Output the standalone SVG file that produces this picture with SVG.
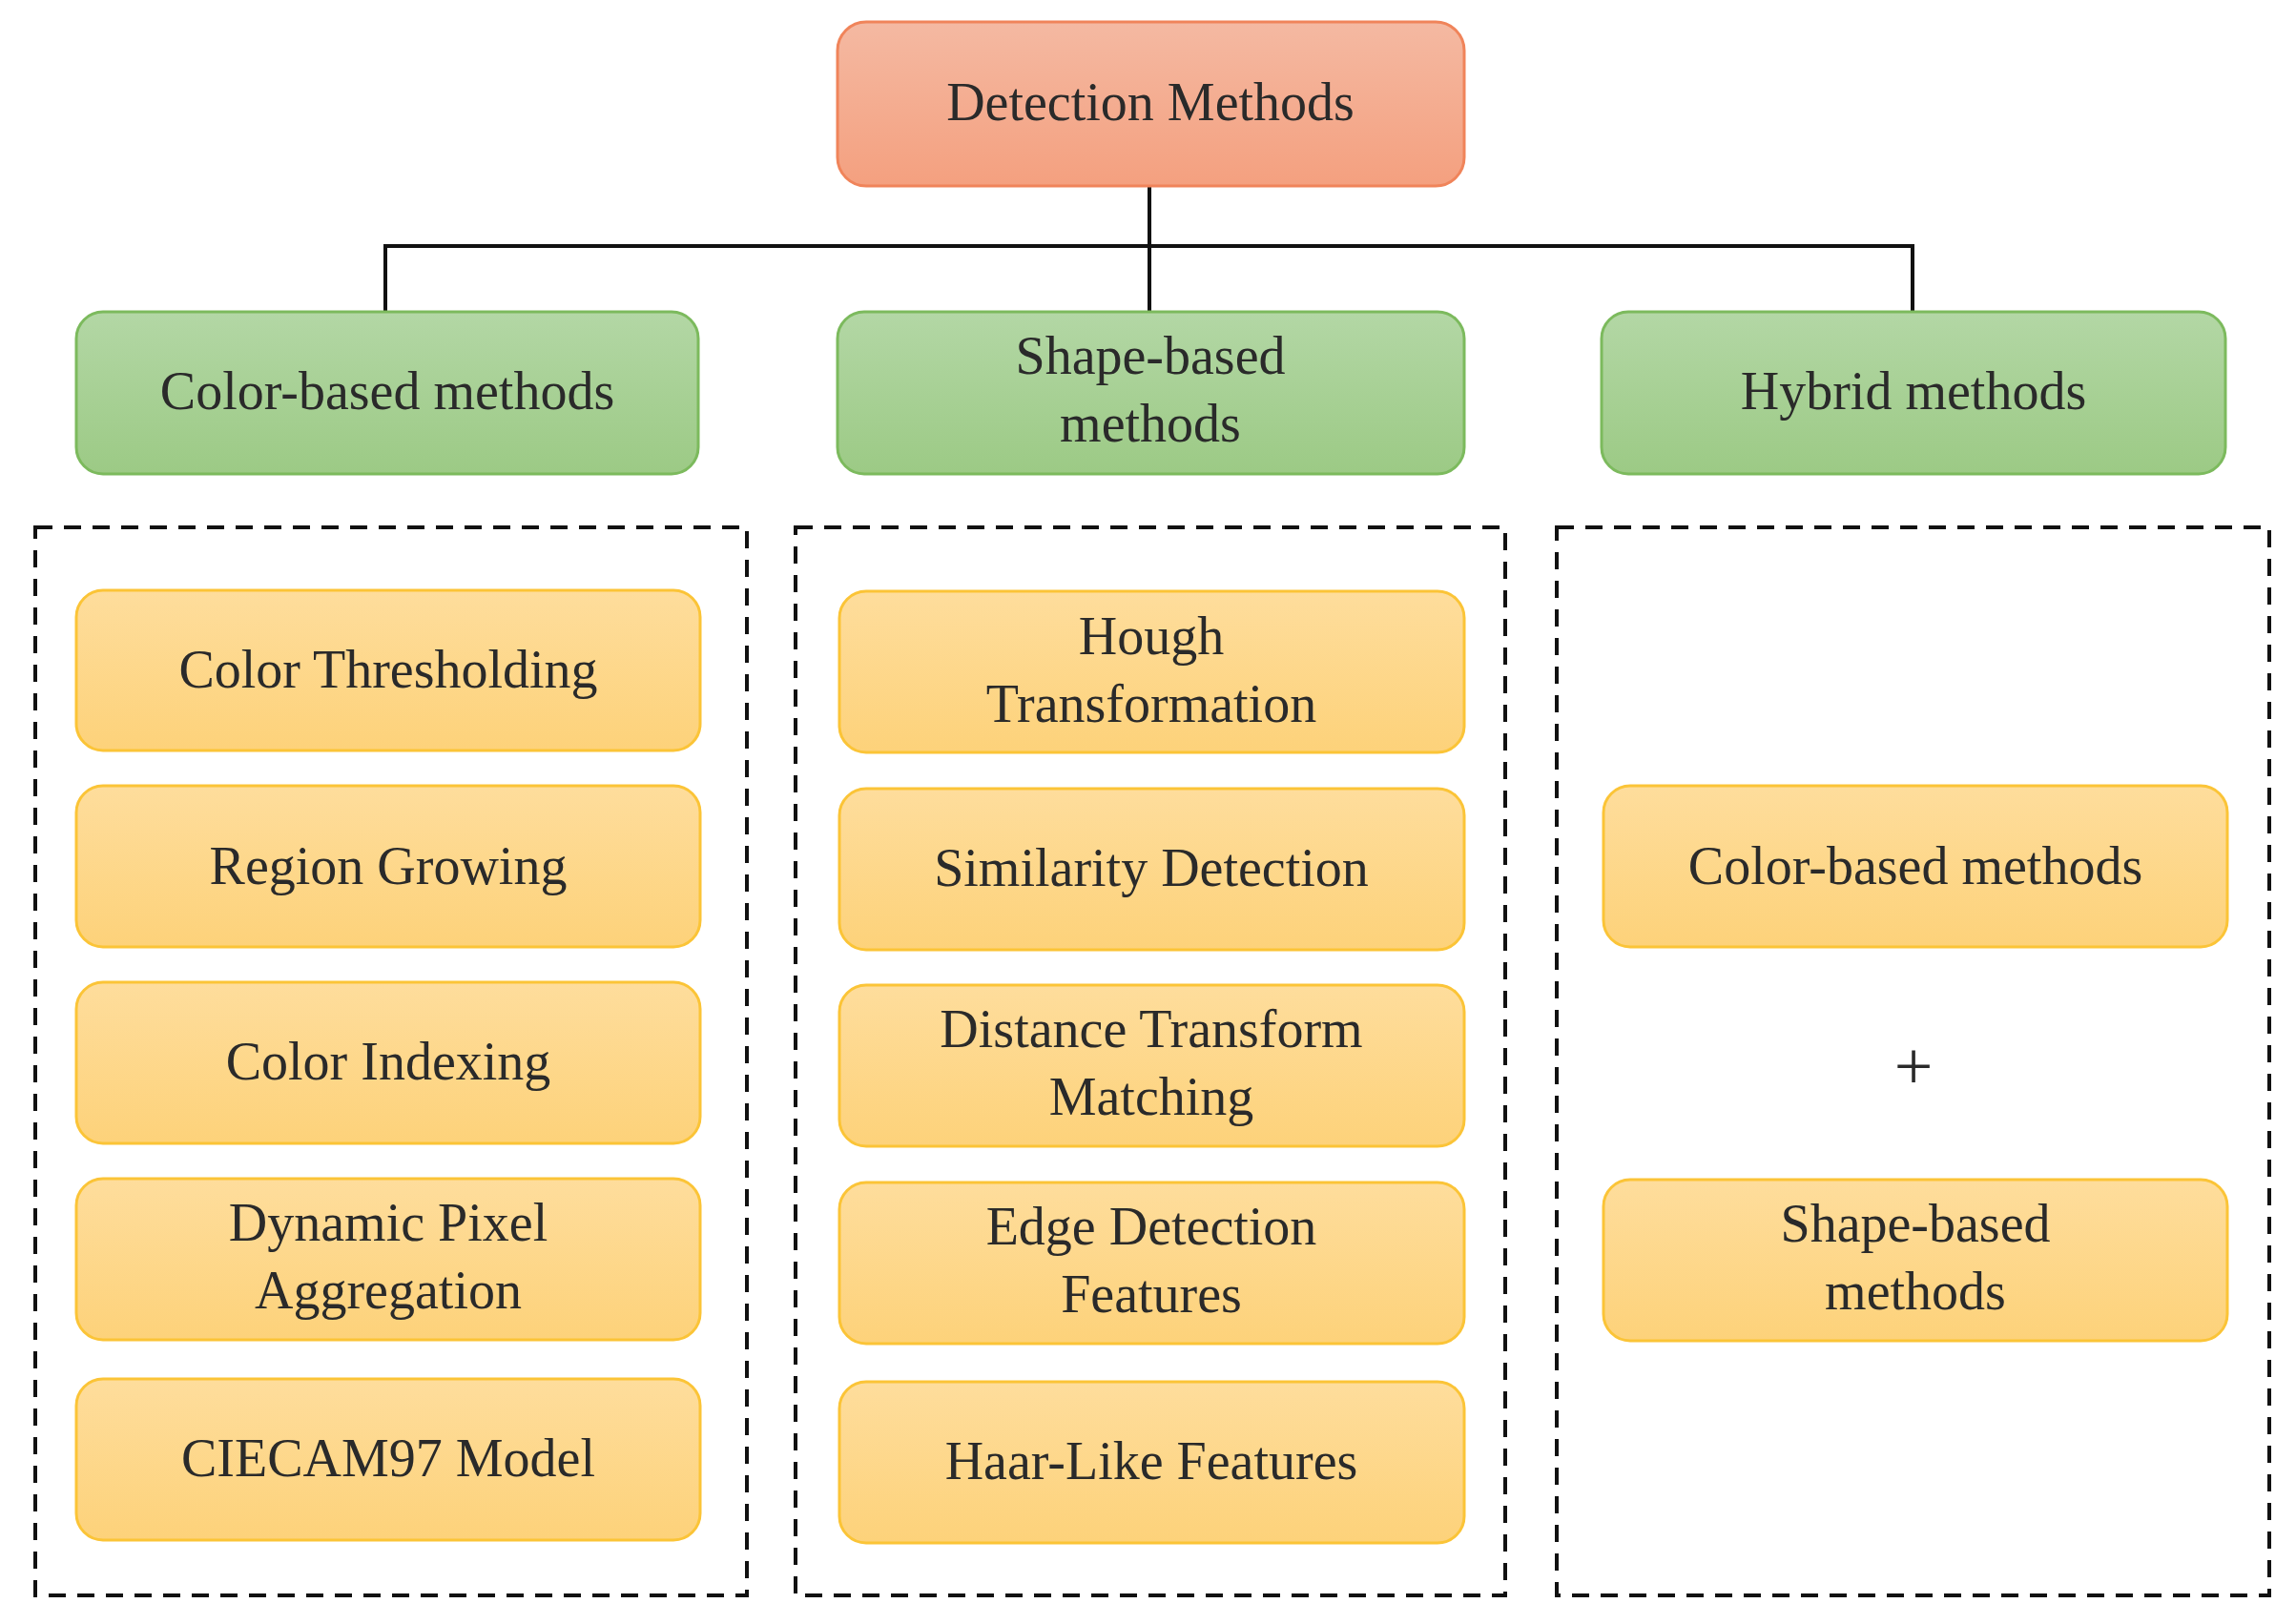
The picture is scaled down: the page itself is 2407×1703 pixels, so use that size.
<svg xmlns="http://www.w3.org/2000/svg" width="2407" height="1703" viewBox="0 0 2407 1703">
<defs>
<linearGradient id="gr" x1="0" y1="0" x2="0" y2="1"><stop offset="0" stop-color="#f4b9a2"/><stop offset="1" stop-color="#f4a07f"/></linearGradient>
<linearGradient id="gg" x1="0" y1="0" x2="0" y2="1"><stop offset="0" stop-color="#b3d7a5"/><stop offset="1" stop-color="#9cca85"/></linearGradient>
<linearGradient id="gy" x1="0" y1="0" x2="0" y2="1"><stop offset="0" stop-color="#fedd9c"/><stop offset="1" stop-color="#fdd27a"/></linearGradient>
</defs>
<style>
.r{fill:url(#gr);stroke:#f0845a;stroke-width:3}
.g{fill:url(#gg);stroke:#7cba5d;stroke-width:3}
.y{fill:url(#gy);stroke:#fbc437;stroke-width:3}
.d{fill:none;stroke:#111;stroke-width:4;stroke-dasharray:18 12}
.c{fill:none;stroke:#111;stroke-width:4}
text{font-family:"Liberation Serif",serif;font-size:56px;fill:#2a2a2a;text-anchor:middle}
</style>
<rect width="2407" height="1703" fill="#fff"/>
<g id="connectors">
<path class="c" d="M1205 195V327M404 327V258H2005V327"/>
</g>
<g id="root"><rect class="r" x="878" y="23" width="657" height="172" rx="30"/><text x="1206" y="126">Detection Methods</text></g>
<g id="color"><rect class="g" x="80" y="327" width="652" height="170" rx="28"/><text x="406" y="429">Color-based methods</text></g>
<g id="shape"><rect class="g" x="878" y="327" width="657" height="170" rx="28"/><text x="1206" y="392">Shape-based</text><text x="1206" y="463">methods</text></g>
<g id="hybrid"><rect class="g" x="1679" y="327" width="654" height="170" rx="28"/><text x="2006" y="429">Hybrid methods</text></g>
<g id="groups">
<rect class="d" x="37" y="553" width="746" height="1120"/>
<rect class="d" x="834" y="553" width="744" height="1120"/>
<rect class="d" x="1632" y="553" width="747" height="1120"/>
</g>
<g id="c1"><rect class="y" x="80" y="619" width="654" height="168" rx="28"/><text x="407" y="721">Color Thresholding</text></g>
<g id="c2"><rect class="y" x="80" y="824" width="654" height="169" rx="28"/><text x="407" y="927">Region Growing</text></g>
<g id="c3"><rect class="y" x="80" y="1030" width="654" height="169" rx="28"/><text x="407" y="1132">Color Indexing</text></g>
<g id="c4"><rect class="y" x="80" y="1236" width="654" height="169" rx="28"/><text x="407" y="1301">Dynamic Pixel</text><text x="407" y="1372">Aggregation</text></g>
<g id="c5"><rect class="y" x="80" y="1446" width="654" height="169" rx="28"/><text x="407" y="1548">CIECAM97 Model</text></g>
<g id="s1"><rect class="y" x="880" y="620" width="655" height="169" rx="28"/><text x="1207" y="686">Hough</text><text x="1207" y="757">Transformation</text></g>
<g id="s2"><rect class="y" x="880" y="827" width="655" height="169" rx="28"/><text x="1207" y="929">Similarity Detection</text></g>
<g id="s3"><rect class="y" x="880" y="1033" width="655" height="169" rx="28"/><text x="1207" y="1098">Distance Transform</text><text x="1207" y="1169">Matching</text></g>
<g id="s4"><rect class="y" x="880" y="1240" width="655" height="169" rx="28"/><text x="1207" y="1305">Edge Detection</text><text x="1207" y="1376">Features</text></g>
<g id="s5"><rect class="y" x="880" y="1449" width="655" height="169" rx="28"/><text x="1207" y="1551">Haar-Like Features</text></g>
<g id="h1"><rect class="y" x="1681" y="824" width="654" height="169" rx="28"/><text x="2008" y="927">Color-based methods</text></g>
<g id="plus"><text x="2006" y="1142" style="font-size:72px">+</text></g>
<g id="h2"><rect class="y" x="1681" y="1237" width="654" height="169" rx="28"/><text x="2008" y="1302">Shape-based</text><text x="2008" y="1373">methods</text></g>
</svg>
